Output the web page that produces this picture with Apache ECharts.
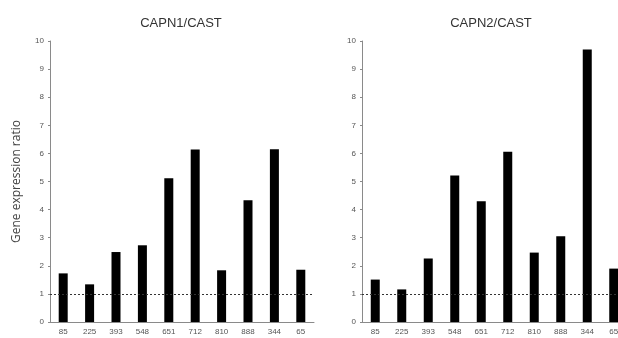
<!DOCTYPE html>
<html>
<head>
<meta charset="utf-8">
<script src="https://cdn.jsdelivr.net/npm/echarts@6/dist/echarts.min.js"></script>
<style>html,body{margin:0;padding:0;background:#fff;overflow:hidden;}#c{width:632px;height:338px;}</style>
</head>
<body>
<div id="c"></div>
<script>
var categories = ['85','225','393','548','651','712','810','888','344','65'];
var capn1 = [1.73, 1.34, 2.49, 2.73, 5.12, 6.14, 1.84, 4.33, 6.15, 1.86];
var capn2 = [1.51, 1.16, 2.26, 5.21, 4.30, 6.06, 2.47, 3.05, 9.70, 1.90];
var yTicks = [0,1,2,3,4,5,6,7,8,9,10];
var titles = ['CAPN1/CAST', 'CAPN2/CAST'];
var refLevel = 1;

var chart = echarts.init(document.getElementById('c'), null, {renderer:'canvas'});
function xAx(i){
  return {type:'category', gridIndex:i, data:categories,
    axisLine:{show:true, lineStyle:{color:'#8a8a8a', width:1}},
    axisTick:{show:false},
    axisLabel:{fontSize:8, color:'#555', margin:6, fontFamily:'Liberation Sans', interval:0}};
}
function yAx(i){
  var o = {type:'value', gridIndex:i, min:0, max:10, interval:1,
    axisLine:{show:true, lineStyle:{color:'#8a8a8a', width:1}},
    axisTick:{show:true, length:2, lineStyle:{color:'#8a8a8a'}},
    splitLine:{show:false},
    axisLabel:{fontSize:8, color:'#555', margin:6, fontFamily:'Liberation Sans'}};
  if(i===0){
    o.name='Gene expression ratio'; o.nameLocation='middle'; o.nameRotate=90; o.nameGap=27;
    o.nameTextStyle={fontSize:12, color:'#444', fontFamily:'Open Sans'};
  }
  return o;
}
function ser(i, data){
  return {type:'bar', xAxisIndex:i, yAxisIndex:i, data:data, barWidth:9,
    itemStyle:{color:'#000'}, silent:true,
    markLine:{silent:true, symbol:'none', label:{show:false},
      lineStyle:{color:'#333', type:[2,2], width:1},
      data:[{yAxis:refLevel}]}};
}
chart.setOption({
  animation:false,
  title:[
    {text:titles[0], left:176, top:12, textAlign:'center', textStyle:{fontSize:13, fontWeight:'normal', color:'#333', fontFamily:'Liberation Sans'}},
    {text:titles[1], left:486, top:12, textAlign:'center', textStyle:{fontSize:13, fontWeight:'normal', color:'#333', fontFamily:'Liberation Sans'}}
  ],
  grid:[
    {left:50, width:264, top:41, bottom:16},
    {left:362, width:265, top:41, bottom:16}
  ],
  xAxis:[xAx(0), xAx(1)],
  yAxis:[yAx(0), yAx(1)],
  series:[ser(0, capn1), ser(1, capn2)]
});
</script>
</body>
</html>
